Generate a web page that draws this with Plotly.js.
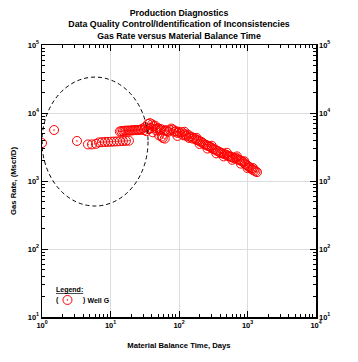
<!DOCTYPE html>
<html>
<head>
<meta charset="utf-8">
<script src="https://cdn.plot.ly/plotly-3.0.1.min.js"></script>
<style>html,body{margin:0;padding:0;background:#fff;}#chart{width:358px;height:362px;}</style>
</head>
<body>
<div id="chart"></div>
<script>
// Material balance time (days)
var mbTime = [
  1.0, 1.5, 3.24, 4.69, 5.37, 6.14, 6.8, 7.5, 8.3, 9.2, 10.2, 11.2, 12.4, 13.7, 15.2, 16.8, 18.6,
  13.7, 14.4, 15.2, 16.0, 16.8, 17.7, 18.6, 19.6, 20.6, 21.7, 22.8, 24.0, 25.2, 26.5, 27.9, 29.4, 30.9,
  32, 33.5, 35.3, 36.5, 37.7, 39, 40.4, 41.5, 42.5, 44.7, 46, 47.5, 49.4, 51, 52.5, 54.6, 56, 58, 60.4, 62, 64, 66.8,
  70, 73.9, 77, 81.7, 85, 90.4, 95, 100, 105, 111, 116, 122, 128, 135, 142, 150, 158, 166, 175, 183, 193,
  203, 213, 224, 236, 248, 261, 274, 288, 303, 319, 336, 353, 371, 390, 410, 431, 454, 477, 502, 528, 555,
  584, 614, 646, 679, 714, 751, 790, 831, 874, 919, 966, 1017, 1070, 1125, 1183, 1244, 1310, 1376,
  95, 140, 200, 260, 350, 450, 600, 800, 1000, 120, 180, 300, 500, 700, 900, 1200
];
// Gas rate (Mscf/D)
var gasRate = [
  3620, 5620, 3880, 3450, 3450, 3520, 3700, 3720, 3750, 3760, 3780, 3800, 3820, 3850, 3870, 3900, 3920,
  5350, 5400, 5450, 5480, 5500, 5500, 5520, 5520, 5550, 5580, 5600, 5600, 5620, 5650, 5700, 5900, 5600,
  6200, 5400, 6900, 5800, 7100, 6000, 6800, 5200, 6400, 6500, 5600, 5900, 6000, 4700, 5600, 5800, 4500, 4300, 5500, 4200, 5600, 5400,
  5300, 5600, 5900, 5700, 5300, 5400, 5100, 5300, 5000, 5200, 4700, 4900, 4600, 4800, 4500, 4500, 4200, 4300, 4100, 4000, 3950,
  3800, 3750, 3600, 3450, 3400, 3300, 3250, 3150, 3050, 2950, 2900, 2800, 2750, 2650, 2600, 2550, 2500, 2450, 2400, 2320, 2300,
  2250, 2200, 2150, 2200, 2100, 2050, 2000, 1950, 1880, 1800, 1720, 1650, 1600, 1520, 1470, 1430, 1390, 1350,
  4600, 4300, 3500, 3000, 2550, 2300, 2050, 1800, 1550, 5300, 4300, 3300, 2600, 2300, 1950, 1550
];
var wellName = "Well G";
var decadeValsX = [1, 10, 100, 1000, 10000];
var decadeTextX = ["10<sup>0</sup>", "10<sup>1</sup>", "10<sup>2</sup>", "10<sup>3</sup>", "10<sup>4</sup>"];
var decadeValsY = [10, 100, 1000, 10000, 100000];
var decadeTextY = ["10<sup>1</sup>", "10<sup>2</sup>", "10<sup>3</sup>", "10<sup>4</sup>", "10<sup>5</sup>"];

var FONT = "Liberation Sans, Arial, Helvetica, sans-serif";

var trace = {
  x: mbTime, y: gasRate, type: "scatter", mode: "markers", name: wellName,
  marker: {symbol: "circle-open-dot", size: 9, color: "#ff0000", line: {width: 1, color: "#ff0000"}},
  xaxis: "x", yaxis: "y"
};
// empty trace so the right-hand mirrored axis (with labels) is drawn
var rightAxisTrace = {x: [], y: [], type: "scatter", mode: "markers", xaxis: "x", yaxis: "y2", showlegend: false, hoverinfo: "skip"};

function axisBase() {
  return {
    type: "log", autorange: false,
    showline: true, linecolor: "#000", linewidth: 1.5,
    ticks: "inside", ticklen: 6, tickwidth: 1, tickcolor: "#000",
    minor: {ticks: "inside", ticklen: 3, tickwidth: 1, tickcolor: "#000", showgrid: false, dtick: "D1", tick0: 0},
    showgrid: true, gridcolor: "#dddddd", gridwidth: 1,
    zeroline: false,
    tickfont: {family: FONT, size: 7.5, color: "#000", weight: "bold"}
  };
}

var smallFont = {family: FONT, size: 7, color: "#000", weight: "bold"};

var layout = {
  width: 358, height: 362,
  margin: {l: 42, r: 42, t: 45, b: 45, pad: 0},
  paper_bgcolor: "#fff", plot_bgcolor: "#fff",
  showlegend: true,
  title: {
    text: "Production Diagnostics<br>Data Quality Control/Identification of Inconsistencies<br>Gas Rate versus Material Balance Time",
    font: {family: FONT, size: 8.8, color: "#000", weight: "bold"},
    x: 0.5, xanchor: "center", yref: "container", y: 1 - 16 / 362, yanchor: "middle"
  },
  xaxis: Object.assign(axisBase(), {
    range: [0, 4], tickvals: decadeValsX, ticktext: decadeTextX, mirror: "ticks",
    title: {text: "Material Balance Time, Days", font: {family: FONT, size: 7.7, color: "#000", weight: "bold"}, standoff: 14}
  }),
  yaxis: Object.assign(axisBase(), {
    range: [1, 5], tickvals: decadeValsY, ticktext: decadeTextY,
    title: {text: "Gas Rate, (Mscf/D)", font: {family: FONT, size: 7.7, color: "#000", weight: "bold"}, standoff: 10}
  }),
  yaxis2: Object.assign(axisBase(), {
    range: [1, 5], tickvals: decadeValsY, ticktext: decadeTextY,
    overlaying: "y", side: "right", showgrid: false, anchor: "x"
  }),
  legend: {
    x: 0.02, y: 0.116, xanchor: "left", yanchor: "top",
    bgcolor: "rgba(0,0,0,0)", borderwidth: 0,
    font: smallFont,
    itemwidth: 30, tracegroupgap: 0
  },
  shapes: [{
    type: "circle", xref: "paper", yref: "paper",
    x0: 0.0, x1: 0.387, y0: 0.408, y1: 0.882,
    line: {color: "#000", width: 1, dash: "4px,3px"}
  }],
  annotations: [
    {xref: "paper", yref: "paper", x: 0.042, y: (317 - 290) / 272, text: "<u>Legend:</u>", showarrow: false,
     font: smallFont, xanchor: "left", yanchor: "middle"},
    {xref: "paper", yref: "paper", x: 0.042, y: (317 - 300) / 272, text: "(", showarrow: false,
     font: smallFont, xanchor: "left", yanchor: "middle"},
    {xref: "paper", yref: "paper", x: 0.142, y: (317 - 300) / 272, text: ")", showarrow: false,
     font: smallFont, xanchor: "left", yanchor: "middle"}
  ]
};

Plotly.newPlot("chart", [trace, rightAxisTrace], layout, {displayModeBar: false, staticPlot: true});
</script>
</body>
</html>
